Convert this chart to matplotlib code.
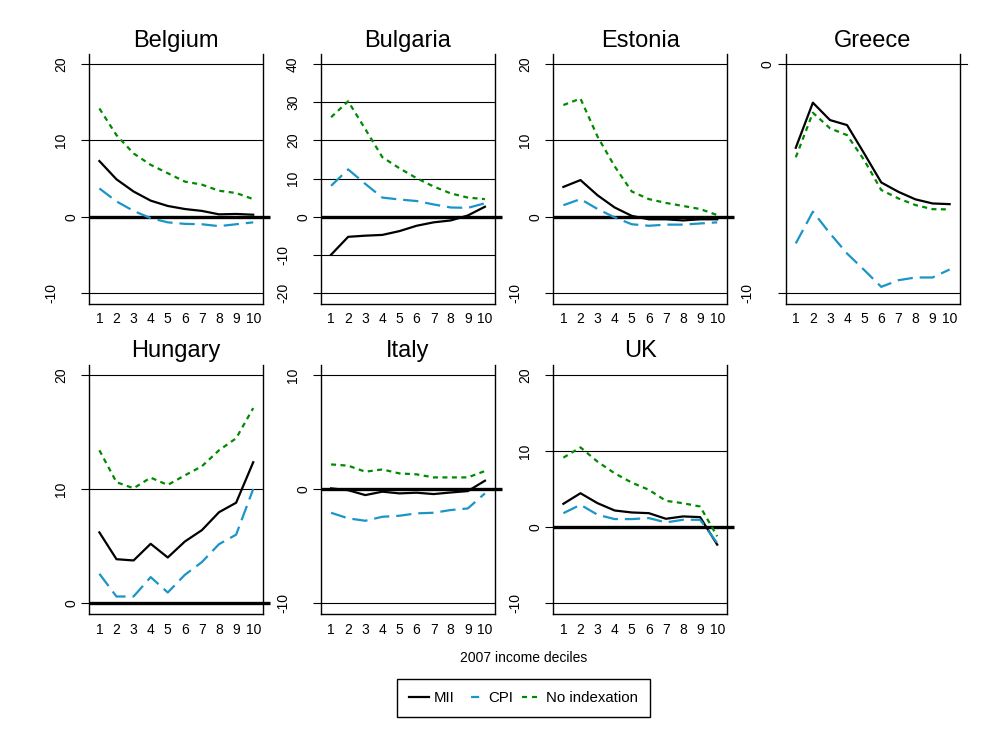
import numpy as np
import matplotlib
matplotlib.use("Agg")
import matplotlib.pyplot as plt
from matplotlib.lines import Line2D

plt.rcParams['font.family'] = ['Liberation Sans', 'DejaVu Sans']
plt.rcParams['lines.scale_dashes'] = False

#################################################################
# data
#################################################################

deciles = [1, 2, 3, 4, 5, 6, 7, 8, 9, 10]
countries = ["Belgium", "Bulgaria", "Estonia", "Greece", "Hungary", "Italy", "UK"]

mii = {
	"Belgium":  [7.3, 4.9, 3.3, 2.1, 1.4, 1.0, 0.75, 0.3, 0.35, 0.25],
	"Bulgaria": [-10.0, -5.3, -5.0, -4.8, -3.8, -2.4, -1.5, -1.0, 0.3, 2.6],
	"Estonia":  [3.9, 4.8, 2.8, 1.2, 0.1, -0.35, -0.35, -0.5, -0.35, -0.35],
	"Greece":   [-3.65, -1.68, -2.44, -2.66, -3.9, -5.17, -5.58, -5.91, -6.09, -6.12],
	"Hungary":  [6.2, 3.85, 3.74, 5.2, 4.0, 5.4, 6.4, 7.97, 8.8, 12.35],
	"Italy":    [0.06, -0.1, -0.53, -0.23, -0.38, -0.32, -0.44, -0.3, -0.18, 0.73],
	"UK":       [3.06, 4.45, 3.14, 2.18, 1.92, 1.83, 1.09, 1.4, 1.31, -2.31],
}
cpi = {
	"Belgium":  [3.7, 2.0, 0.75, -0.2, -0.75, -0.95, -1.0, -1.25, -1.0, -0.75],
	"Bulgaria": [8.1, 12.4, 8.6, 5.0, 4.5, 4.1, 3.2, 2.4, 2.3, 3.5],
	"Estonia":  [1.5, 2.3, 1.0, -0.1, -1.0, -1.2, -1.05, -1.05, -0.9, -0.75],
	"Greece":   [-7.84, -6.45, -7.4, -8.28, -9.0, -9.74, -9.45, -9.33, -9.33, -8.98],
	"Hungary":  [2.57, 0.58, 0.58, 2.28, 0.93, 2.48, 3.6, 5.17, 6.0, 10.0],
	"Italy":    [-2.08, -2.57, -2.78, -2.43, -2.34, -2.13, -2.08, -1.84, -1.7, -0.38],
	"UK":       [1.83, 2.93, 1.62, 1.05, 1.05, 1.18, 0.61, 0.96, 0.96, -2.1],
}
no_index = {
	"Belgium":  [14.2, 10.7, 8.3, 6.8, 5.7, 4.6, 4.2, 3.4, 3.1, 2.3],
	"Bulgaria": [26.1, 30.3, 23.0, 15.6, 12.7, 10.1, 7.9, 6.1, 5.0, 4.6],
	"Estonia":  [14.65, 15.5, 10.5, 6.6, 3.3, 2.3, 1.8, 1.4, 1.0, 0.2],
	"Greece":   [-4.07, -2.12, -2.8, -3.1, -4.19, -5.5, -5.87, -6.16, -6.34, -6.35],
	"Hungary":  [13.4, 10.6, 10.07, 11.0, 10.36, 11.2, 12.0, 13.4, 14.45, 17.1],
	"Italy":    [2.16, 2.05, 1.52, 1.72, 1.37, 1.29, 1.02, 1.02, 1.02, 1.58],
	"UK":       [9.13, 10.48, 8.6, 7.07, 5.85, 4.9, 3.45, 3.14, 2.7, -1.22],
}
yticks = {
	"Belgium":  [-10, 0, 10, 20],
	"Bulgaria": [-20, -10, 0, 10, 20, 30, 40],
	"Estonia":  [-10, 0, 10, 20],
	"Greece":   [-10, 0],
	"Hungary":  [0, 10, 20],
	"Italy":    [-10, 0, 10],
	"UK":       [-10, 0, 10, 20],
}

#################################################################
# plot
#################################################################

W, H = 1006, 734
fig = plt.figure(figsize=(W/100, H/100), dpi=100)

c_mii = "black"
c_cpi = "#1b95c8"
c_no = "#008a00"

lefts = [89.3, 321.0, 553.3, 785.7]
rows = [(54.3, 304.0), (365.0, 614.3)]
panel_w = 174.0

for i, name in enumerate(countries):
	r, c = divmod(i, 4)
	top, bot = rows[r]
	ax = fig.add_axes([lefts[c]/W, (H-bot)/H, panel_w/W, (bot-top)/H])

	t = yticks[name]
	span = max(t) - min(t)
	ax.set_ylim(min(t) - span*11.2/228.4, max(t) + span*10/228.4)
	ax.set_xlim(0.41, 10.59)

	# grid lines, zero line and the odd Stata-style vertical labels
	for v in t:
		if v == 0 and name != "Greece":
			ax.plot([0, 1.04], [0, 0], transform=ax.get_yaxis_transform(),
					color="black", lw=2.4, clip_on=False, zorder=1.5, solid_capstyle="butt")
		elif v == 0:
			ax.plot([0, 1.04], [0, 0], transform=ax.get_yaxis_transform(),
					color="black", lw=0.8, clip_on=False, zorder=1)
		else:
			ax.axhline(v, color="black", lw=0.8, zorder=1)
		off = 8 + 10*len(str(v))
		ax.text(-off/panel_w, v, str(v), transform=ax.get_yaxis_transform(),
				rotation=90, ha="center", va="center", fontsize=10)

	ax.set_yticks(t)
	ax.set_yticklabels([])
	ax.tick_params(axis="y", length=6, width=0.8, direction="out")
	ax.set_xticks(deciles)
	ax.tick_params(axis="x", length=0, pad=6, labelsize=10)

	ax.spines["top"].set_visible(False)
	for s in ["left", "right", "bottom"]:
		ax.spines[s].set_linewidth(1.0)

	ax.plot(deciles, mii[name], color=c_mii, lw=1.6, zorder=3)
	ax.plot(deciles, cpi[name], color=c_cpi, lw=1.6, dashes=(11, 5), zorder=3)
	ax.plot(deciles, no_index[name], color=c_no, lw=1.6, dashes=(3.6, 3.2), zorder=3)

	ax.set_title(name, fontsize=17, pad=5.5)

fig.text(523.3/W, (H-658)/H, "2007 income deciles", ha="center", va="center", fontsize=10)

handles = [Line2D([], [], color=c_mii, lw=1.6),
		   Line2D([], [], color=c_cpi, lw=1.6, linestyle=(0, (0, 5.8, 5.8, 20))),
		   Line2D([], [], color=c_no, lw=1.6, dashes=(3.6, 3.6))]
leg = fig.legend(handles, ["MII", "CPI", "No indexation"], loc="center",
				 bbox_to_anchor=(523.5/W, (H-698)/H), ncol=3, fontsize=10.8,
				 handlelength=1.35, handletextpad=0.3, columnspacing=0.6,
				 fancybox=False, edgecolor="black", framealpha=1,
				 borderpad=0.8)
leg.get_frame().set_linewidth(1.0)

fig.savefig("out.png", dpi=100, facecolor="white")
